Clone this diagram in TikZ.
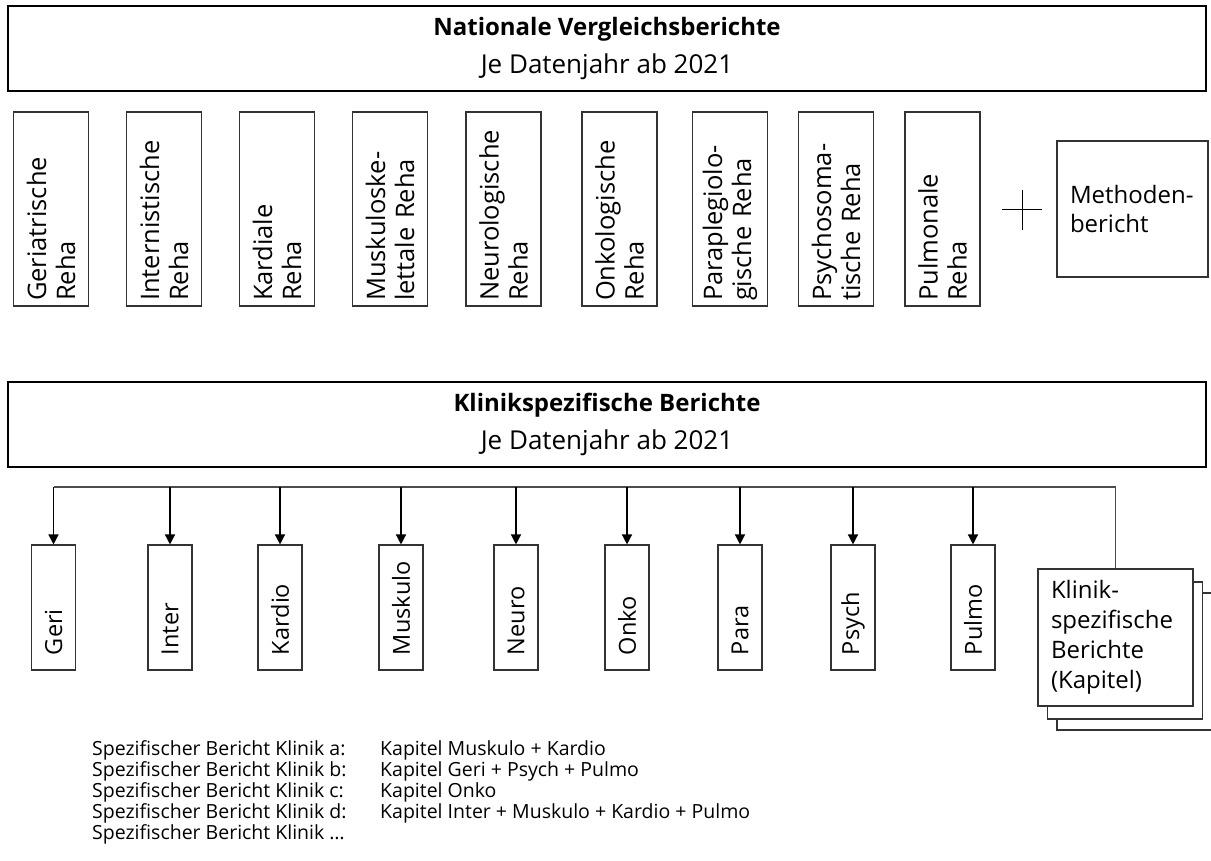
\documentclass[tikz,border=0pt]{standalone}
\usepackage{fontspec}
\setmainfont{Open Sans}
\usetikzlibrary{arrows.meta, positioning}

\begin{document}
\begin{tikzpicture}[x=1pt, y=-1pt,
  bigbox/.style={draw=black, line width=1.6pt, minimum width=1198pt, minimum height=85pt, align=center, inner sep=0pt, font=\fontsize{26}{38}\selectfont},
  rbox/.style={draw=black!80, line width=1.1pt, rotate=90, align=left, text width=184pt, inner xsep=5pt, inner ysep=0pt, minimum height=75pt, font=\fontsize{25.5}{29}\selectfont},
  sbox/.style={draw=black!80, line width=1.1pt, rotate=90, align=left, text width=95pt, inner xsep=15pt, inner ysep=0pt, minimum height=44pt, font=\fontsize{23.5}{29}\selectfont},
  stk/.style={draw=black!80, line width=1.1pt, fill=white, minimum width=155pt, minimum height=137pt, inner sep=0pt},
  arr/.style={-{Triangle[width=10pt,length=10pt]}, line width=1.4pt},
  liste/.style={anchor=north west, align=left, inner sep=0pt, font=\fontsize{19.5}{21}\selectfont}]
\useasboundingbox (0,0) rectangle (1211,861);

\node[bigbox] (nat) at (607,48.5) {\fontsize{24}{38}\selectfont\bfseries Nationale Vergleichsberichte\\ Je Datenjahr ab 2021};

\node[rbox] (geriR) at (51,209) {Geriatrische\\Reha};
\node[rbox] (interR) at (164,209) {Internistische\\Reha};
\node[rbox] (kardR) at (277,209) {Kardiale\\Reha};
\node[rbox] (muskR) at (390,209) {Muskuloske-\\lettale Reha};
\node[rbox] (neuroR) at (503.5,209) {Neurologische\\Reha};
\node[rbox] (onkoR) at (619.5,209) {Onkologische\\Reha};
\node[rbox] (paraR) at (730,209) {Paraplegiolo-\\gische Reha};
\node[rbox] (psychR) at (836,209) {Psychosoma-\\tische Reha};
\node[rbox] (pulmoR) at (942.5,209) {Pulmonale\\Reha};

\draw[line width=1pt] (1002,210) -- (1042,210) (1022,190) -- (1022,230);
\node[stk, minimum width=151pt, minimum height=136pt, text width=125pt, inner xsep=13pt, align=left, font=\fontsize{24}{29}\selectfont] (meth) at (1132.5,209) {Methoden-\\bericht};

\node[bigbox] (klin) at (607,424.5) {\fontsize{24}{38}\selectfont\bfseries Klinikspezifische Berichte\\ Je Datenjahr ab 2021};

\node[stk] (klinC) at (1134.5,661.5) {};
\node[stk] (klinB) at (1125,650.5) {};
\node[stk, text width=129pt, inner xsep=13pt, align=left, font=\fontsize{24}{30}\selectfont] (klinA) at (1115.5,637.5) {Klinik-\\spezifische\\Berichte\\(Kapitel)};

\node[sbox] (geri) at (53.5,607.5) {Geri};
\node[sbox] (inter) at (170,607.5) {Inter};
\node[sbox] (kardio) at (280,607.5) {Kardio};
\node[sbox] (musk) at (401,607.5) {Muskulo};
\node[sbox] (neuro) at (516,607.5) {Neuro};
\node[sbox] (onko) at (627,607.5) {Onko};
\node[sbox] (para) at (740,607.5) {Para};
\node[sbox] (psych) at (853,607.5) {Psych};
\node[sbox] (pulmo) at (973,607.5) {Pulmo};

\coordinate (brk) at (53.5,487);
\draw[draw=black!70, line width=1.1pt] (brk) -- (brk -| klinA.north) -- (klinA.north);
\foreach \n in {geri,inter,kardio,musk,neuro,onko,para,psych,pulmo}
  \draw[arr] (\n.east |- brk) -- (\n.east);

\node[liste] (spez) at (92,740) {Spezifischer Bericht Klinik a:\\Spezifischer Bericht Klinik b:\\Spezifischer Bericht Klinik c:\\Spezifischer Bericht Klinik d:\\Spezifischer Bericht Klinik \dots};
\node[liste] (kap) at (380,740) {Kapitel Muskulo + Kardio\\Kapitel Geri + Psych + Pulmo\\Kapitel Onko\\Kapitel Inter + Muskulo + Kardio + Pulmo};
\end{tikzpicture}
\end{document}
